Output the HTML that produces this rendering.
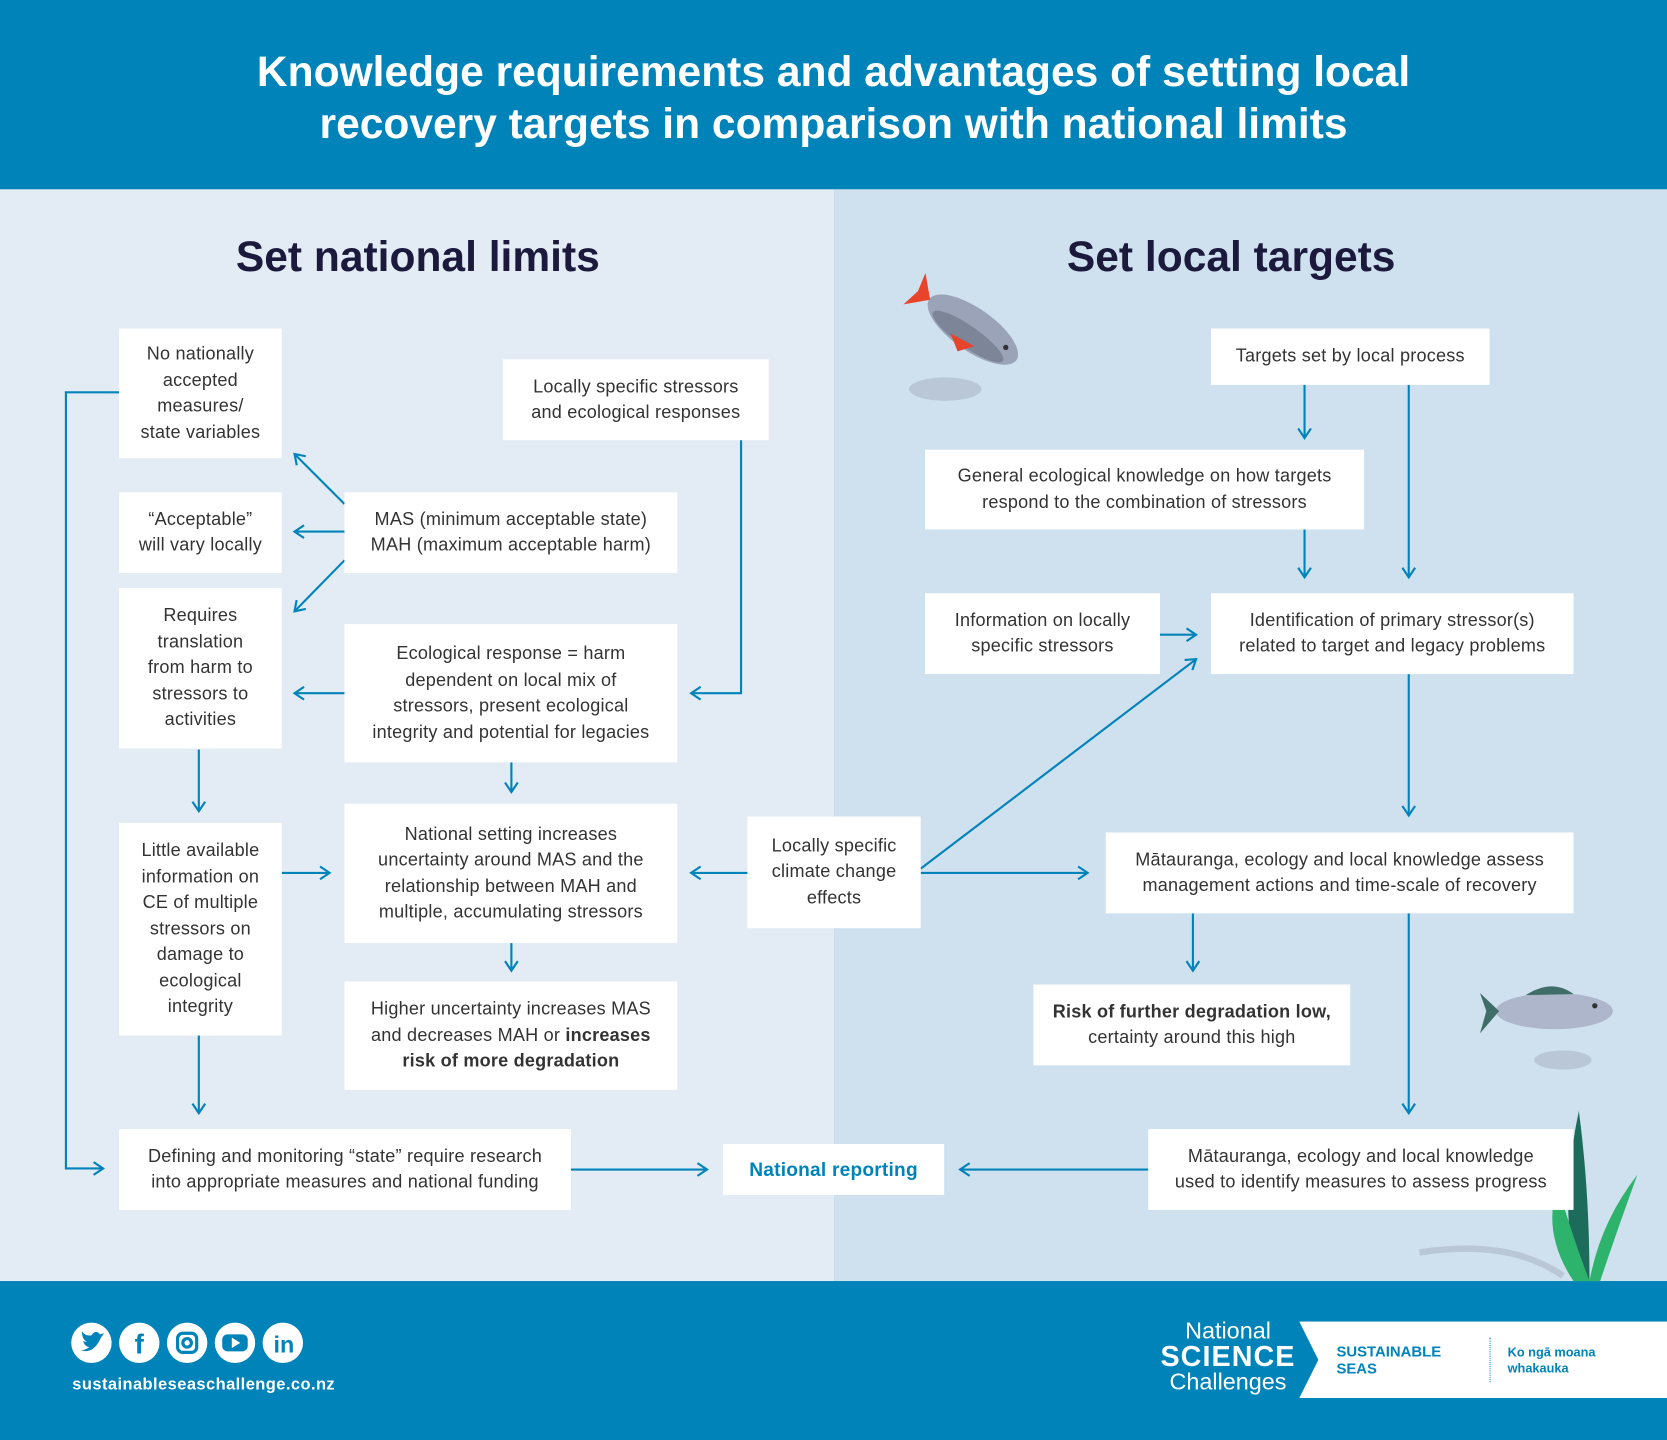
<!DOCTYPE html>
<html><head><meta charset="utf-8"><style>
html,body{margin:0;padding:0;width:1667px;height:1440px;overflow:hidden;background:#0083b9}
#s{position:absolute;left:0;top:0;width:1568px;height:1354px;transform:scale(1.0632);transform-origin:0 0;font-family:"Liberation Sans",sans-serif}
.hd{position:absolute;left:0;top:0;width:1568px;height:178px;background:#0083b9;color:#fff;text-align:center;font-weight:bold;font-size:40px;letter-spacing:0;line-height:49px;padding-top:44px;box-sizing:border-box}
.lp{position:absolute;left:0;top:178px;width:785px;height:1027px;background:#e3ecf5}
.rp{position:absolute;left:785px;top:178px;width:783px;height:1027px;background:#cfe0ee}
.ft{position:absolute;left:0;top:1205px;width:1568px;height:149px;background:#0083b9}
.h2{position:absolute;font-weight:bold;font-size:40px;color:#1b1a3d;text-align:center;width:500px}
.b{position:absolute;background:#fff;color:#333;font-size:17px;letter-spacing:0.2px;line-height:24.5px;text-align:center;display:flex;align-items:center;justify-content:center;box-sizing:border-box;padding:0 2px;white-space:nowrap}
svg{position:absolute;left:0;top:0}
</style></head><body><div id="s">
<div class="hd">Knowledge requirements and advantages of setting local<br>recovery targets in comparison with national limits</div>
<div class="lp"></div><div class="rp"></div><div class="ft"></div>
<div class="h2" style="left:143px;top:220px">Set national limits</div>
<div class="h2" style="left:908px;top:220px">Set local targets</div>

<svg width="1568" height="1354">
<defs><marker id="a" markerWidth="12" markerHeight="14" refX="10" refY="7" orient="auto" markerUnits="userSpaceOnUse"><path d="M1,1 L10,7 L1,13" fill="none" stroke="#0083b9" stroke-width="2"/></marker></defs>
<g stroke="#0083b9" stroke-width="2" fill="none" marker-end="url(#a)">
<polyline points="112,369 62,369 62,1099 97,1099"/>
<line x1="324" y1="474" x2="277" y2="427"/>
<line x1="324" y1="500" x2="277" y2="500"/>
<line x1="324" y1="527" x2="277" y2="575"/>
<polyline points="697,414 697,652 650,652"/>
<line x1="324" y1="652" x2="277" y2="652"/>
<line x1="187" y1="705" x2="187" y2="763"/>
<line x1="481" y1="717" x2="481" y2="745"/>
<line x1="265" y1="821" x2="310" y2="821"/>
<line x1="481" y1="887" x2="481" y2="913"/>
<line x1="187" y1="974" x2="187" y2="1047"/>
<line x1="703" y1="821" x2="650" y2="821"/>
<line x1="537" y1="1100" x2="665" y2="1100"/>
<line x1="1080" y1="1100" x2="903" y2="1100"/>
<line x1="866" y1="821" x2="1023" y2="821"/>
<line x1="866" y1="817" x2="1125" y2="620"/>
<line x1="1227" y1="362" x2="1227" y2="412"/>
<line x1="1325" y1="362" x2="1325" y2="543"/>
<line x1="1227" y1="498" x2="1227" y2="543"/>
<line x1="1091" y1="597" x2="1125" y2="597"/>
<line x1="1325" y1="634" x2="1325" y2="767"/>
<line x1="1122" y1="859" x2="1122" y2="913"/>
<line x1="1325" y1="859" x2="1325" y2="1047"/>
</g>
<ellipse cx="889" cy="366" rx="34" ry="11" fill="#b9c7d6"/>
<g transform="rotate(35 915 310)"><ellipse cx="915" cy="310" rx="50" ry="20" fill="#9aa3b8"/><ellipse cx="915" cy="318" rx="40" ry="10" fill="#7d8699"/><path d="M866,310 L848,292 L852,310 L848,328 Z" fill="#e8432b"/><path d="M900,325 L915,335 L925,322 Z" fill="#e8432b"/><circle cx="950" cy="306" r="2.5" fill="#333"/></g>
<ellipse cx="1470" cy="997" rx="27" ry="9" fill="#b9c7d6"/>
<ellipse cx="1462" cy="951" rx="55" ry="17" fill="#aeb6cc"/><path d="M1410,951 L1392,934 L1398,951 L1392,972 Z" fill="#3f6d68"/><path d="M1435,936 Q1460,920 1480,935 Z" fill="#3f6d68"/><circle cx="1500" cy="946" r="2.5" fill="#333"/>
<path d="M1485,1205 Q1465,1140 1485,1045 Q1495,1120 1495,1205 Z" fill="#1d6b5a"/>
<path d="M1480,1205 Q1450,1160 1465,1115 Q1478,1160 1495,1205 Z" fill="#2db36b"/>
<path d="M1495,1205 Q1505,1150 1540,1105 Q1520,1160 1505,1205 Z" fill="#2db36b"/>
<path d="M1335,1178 Q1420,1165 1470,1200" stroke="#b9c7d6" stroke-width="6" fill="none"/>
<g fill="#fff"><circle cx="86" cy="1263" r="19"/><circle cx="131" cy="1263" r="19"/><circle cx="176" cy="1263" r="19"/><circle cx="221" cy="1263" r="19"/><circle cx="266" cy="1263" r="19"/></g>
<g fill="#0083b9" font-family="Liberation Sans" font-weight="bold" text-anchor="middle">
<path d="M76,1270 Q88,1274 95,1258 L98,1254 L94,1255 Q90,1250 86,1256 Q80,1257 77,1252 Q77,1260 82,1262 Q79,1262 78,1261 Q80,1267 84,1267 Q80,1270 76,1270Z"/>
<text x="131" y="1273" font-size="26">f</text>
<rect x="167" y="1254" width="18" height="18" rx="5" fill="none" stroke="#0083b9" stroke-width="3"/><circle cx="176" cy="1263" r="4" fill="none" stroke="#0083b9" stroke-width="3"/>
<rect x="209" y="1255" width="24" height="16" rx="5"/><path d="M218,1258 L226,1263 L218,1268Z" fill="#fff"/>
<text x="267" y="1272" font-size="22">in</text>
</g>
</svg>

<div class="b" style="left:112px;top:309px;width:153px;height:122px">No nationally<br>accepted<br>measures/<br>state variables</div>
<div class="b" style="left:473px;top:338px;width:250px;height:76px">Locally specific stressors<br>and ecological responses</div>
<div class="b" style="left:112px;top:463px;width:153px;height:76px">“Acceptable”<br>will vary locally</div>
<div class="b" style="left:324px;top:463px;width:313px;height:76px">MAS (minimum acceptable state)<br>MAH (maximum acceptable harm)</div>
<div class="b" style="left:112px;top:553px;width:153px;height:151px">Requires<br>translation<br>from harm to<br>stressors to<br>activities</div>
<div class="b" style="left:324px;top:587px;width:313px;height:130px">Ecological response = harm<br>dependent on local mix of<br>stressors, present ecological<br>integrity and potential for legacies</div>
<div class="b" style="left:112px;top:774px;width:153px;height:200px">Little available<br>information on<br>CE of multiple<br>stressors on<br>damage to<br>ecological<br>integrity</div>
<div class="b" style="left:324px;top:756px;width:313px;height:131px">National setting increases<br>uncertainty around MAS and the<br>relationship between MAH and<br>multiple, accumulating stressors</div>
<div class="b" style="left:324px;top:923px;width:313px;height:102px"><span>Higher uncertainty increases MAS<br>and decreases MAH or <b>increases<br>risk of more degradation</b></span></div>
<div class="b" style="left:112px;top:1062px;width:425px;height:76px">Defining and monitoring “state” require research<br>into appropriate measures and national funding</div>
<div class="b" style="left:680px;top:1076px;width:208px;height:48px;color:#0083b9;font-weight:bold;font-size:18px">National reporting</div>
<div class="b" style="left:703px;top:768px;width:163px;height:105px">Locally specific<br>climate change<br>effects</div>
<div class="b" style="left:1139px;top:309px;width:262px;height:53px">Targets set by local process</div>
<div class="b" style="left:870px;top:423px;width:413px;height:75px">General ecological knowledge on how targets<br>respond to the combination of stressors</div>
<div class="b" style="left:870px;top:558px;width:221px;height:76px">Information on locally<br>specific stressors</div>
<div class="b" style="left:1139px;top:558px;width:341px;height:76px">Identification of primary stressor(s)<br>related to target and legacy problems</div>
<div class="b" style="left:1040px;top:783px;width:440px;height:76px">Mātauranga, ecology and local knowledge assess<br>management actions and time-scale of recovery</div>
<div class="b" style="left:972px;top:926px;width:298px;height:76px"><span><b>Risk of further degradation low,</b><br>certainty around this high</span></div>
<div class="b" style="left:1080px;top:1062px;width:400px;height:76px">Mātauranga, ecology and local knowledge<br>used to identify measures to assess progress</div>

<div style="position:absolute;left:68px;top:1294px;color:#fff;font-weight:bold;font-size:15.5px;letter-spacing:0.4px">sustainableseaschallenge.co.nz</div>
<div style="position:absolute;left:1085px;top:1240px;width:140px;color:#fff;text-align:center;line-height:24px">
<div style="font-size:22px">National</div><div style="font-size:27px;font-weight:bold;letter-spacing:1px">SCIENCE</div><div style="font-size:22px">Challenges</div></div>
<div style="position:absolute;left:1222px;top:1243px;width:346px;height:72px;background:#fff;clip-path:polygon(0 0,100% 0,100% 100%,0 100%,18px 50%)"></div>
<div style="position:absolute;left:1257px;top:1263px;color:#0083b9;font-weight:bold;font-size:14px;line-height:16px">SUSTAINABLE<br>SEAS</div>
<div style="position:absolute;left:1401px;top:1258px;height:42px;border-left:1px dotted #0083b9"></div>
<div style="position:absolute;left:1418px;top:1265px;color:#0083b9;font-weight:bold;font-size:12px;line-height:15px">Ko ngā moana<br>whakauka</div>
</div></body></html>
